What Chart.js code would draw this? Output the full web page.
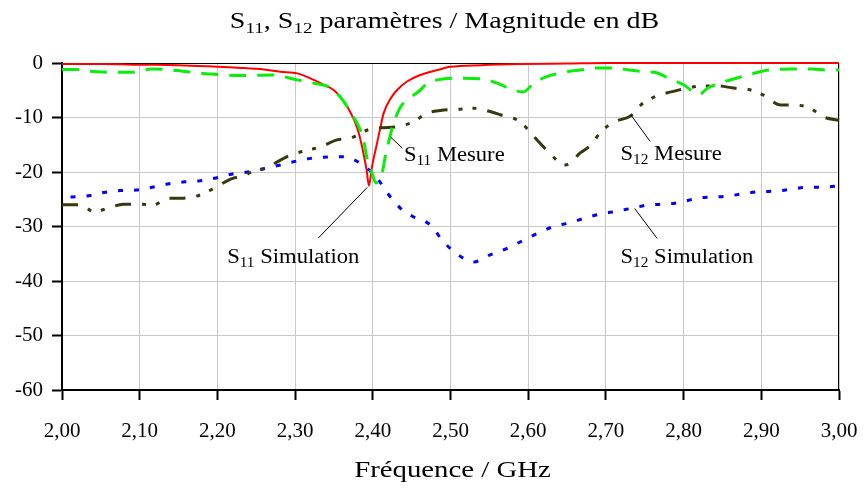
<!DOCTYPE html>
<html>
<head>
<meta charset="utf-8">
<title>S11, S12 paramètres</title>
<script src="https://cdn.jsdelivr.net/npm/chart.js@4.4.1/dist/chart.umd.min.js"></script>
<style>
  html, body { margin: 0; padding: 0; background: #fff; }
  #wrap { width: 864px; height: 490px; }
</style>
</head>
<body>
<div id="wrap"><canvas id="sparams"></canvas></div>
<script>
// S11 simulation (red)
const s11SimFreq = [2.000, 2.050, 2.100, 2.150, 2.200, 2.230, 2.260, 2.281, 2.303, 2.324, 2.337, 2.350, 2.358, 2.367, 2.376, 2.382, 2.388, 2.392, 2.395, 2.399, 2.405, 2.410, 2.414, 2.423, 2.431, 2.444, 2.461, 2.483, 2.500, 2.540, 2.590, 2.650, 2.700, 2.800, 2.900, 3.000];
const s11SimDb = [-0.2, -0.2, -0.3, -0.4, -0.7, -0.9, -1.2, -1.6, -1.9, -3.1, -4.0, -5.0, -6.2, -8.0, -10.5, -12.9, -16.6, -19.6, -22.5, -19.0, -15.0, -11.7, -9.2, -6.5, -5.0, -3.4, -2.2, -1.3, -0.7, -0.4, -0.2, -0.1, 0, 0, 0, 0];

// S11 mesure (green)
const s11MesFreq = [2.000, 2.020, 2.035, 2.070, 2.095, 2.115, 2.135, 2.155, 2.190, 2.230, 2.270, 2.303, 2.324, 2.346, 2.358, 2.367, 2.375, 2.384, 2.388, 2.393, 2.399, 2.404, 2.407, 2.412, 2.416, 2.420, 2.427, 2.436, 2.444, 2.461, 2.470, 2.483, 2.504, 2.539, 2.560, 2.581, 2.594, 2.607, 2.624, 2.650, 2.667, 2.690, 2.710, 2.730, 2.750, 2.765, 2.778, 2.800, 2.820, 2.831, 2.851, 2.870, 2.893, 2.910, 2.940, 2.965, 2.985, 3.000];
const s11MesDb = [-1.2, -1.2, -1.5, -1.7, -1.7, -1.1, -1.2, -1.5, -2.0, -2.3, -2.2, -3.1, -3.7, -4.6, -6.2, -8.0, -9.8, -12.3, -14.1, -17.8, -20.2, -22.0, -21.8, -20.2, -17.2, -14.7, -11.0, -8.0, -6.8, -5.0, -3.7, -3.1, -2.8, -2.9, -3.7, -5.0, -5.3, -3.7, -2.5, -1.6, -1.3, -0.9, -0.9, -1.3, -1.6, -1.8, -2.6, -4.0, -5.8, -4.6, -3.5, -2.7, -1.8, -1.3, -1.1, -1.1, -1.3, -1.3];

// S12 mesure (dark olive)
const s12MesFreq = [2.000, 2.024, 2.041, 2.060, 2.079, 2.098, 2.118, 2.137, 2.156, 2.178, 2.198, 2.217, 2.235, 2.250, 2.264, 2.275, 2.294, 2.316, 2.333, 2.354, 2.371, 2.393, 2.410, 2.431, 2.452, 2.470, 2.487, 2.509, 2.530, 2.551, 2.564, 2.590, 2.603, 2.624, 2.648, 2.667, 2.681, 2.693, 2.711, 2.732, 2.745, 2.768, 2.784, 2.805, 2.826, 2.845, 2.864, 2.885, 2.903, 2.925, 2.941, 2.963, 2.980, 3.000];
const s12MesDb = [-26.0, -26.0, -27.3, -26.6, -25.9, -25.9, -26.0, -24.8, -24.8, -24.2, -22.8, -21.3, -20.6, -19.6, -19.3, -18.3, -16.9, -16.0, -15.4, -14.1, -13.8, -12.3, -11.9, -11.7, -10.8, -9.2, -8.7, -8.5, -8.3, -8.9, -9.5, -10.8, -12.8, -16.0, -18.7, -16.5, -15.0, -12.7, -10.8, -9.7, -7.7, -5.9, -5.3, -4.6, -4.2, -4.2, -4.6, -4.9, -5.9, -7.7, -7.7, -8.3, -9.9, -10.5];

// S12 simulation (blue)
const s12SimFreq = [2.011, 2.037, 2.056, 2.075, 2.096, 2.116, 2.136, 2.158, 2.178, 2.198, 2.218, 2.239, 2.281, 2.320, 2.362, 2.384, 2.406, 2.419, 2.436, 2.452, 2.474, 2.491, 2.513, 2.530, 2.551, 2.573, 2.590, 2.616, 2.633, 2.654, 2.674, 2.693, 2.714, 2.735, 2.757, 2.777, 2.797, 2.818, 2.837, 2.858, 2.880, 2.899, 2.921, 2.941, 2.961, 2.981, 3.000];
const s12SimDb = [-24.6, -24.3, -23.7, -23.4, -23.3, -22.8, -22.2, -21.8, -21.6, -21.1, -20.4, -20.0, -18.7, -17.5, -17.2, -18.4, -21.2, -23.9, -26.7, -28.2, -29.7, -32.8, -35.5, -36.5, -35.2, -34.0, -32.8, -31.0, -30.0, -29.3, -28.4, -27.7, -27.2, -26.6, -26.0, -25.9, -25.5, -24.8, -24.6, -24.4, -23.9, -23.6, -23.5, -23.1, -22.8, -22.8, -22.5];

const SERIF = '"Liberation Serif", "Times New Roman", serif';

function pts(freq, db) {
  return freq.map((f, i) => ({ x: f, y: db[i] }));
}

// text with subscripts: parts = [text, isSub]
function drawRich(ctx, parts, x, y, size, stretch, align) {
  const widths = parts.map(([t, sub]) => {
    ctx.font = (sub ? size * 0.68 : size) + 'px ' + SERIF;
    return ctx.measureText(t).width;
  });
  const total = widths.reduce((a, b) => a + b, 0) * stretch;
  const startX = align === 'center' ? x - total / 2 : x;
  ctx.save();
  ctx.fillStyle = '#000';
  ctx.textBaseline = 'alphabetic';
  ctx.textAlign = 'left';
  ctx.translate(startX, y);
  ctx.scale(stretch, 1);
  let px = 0;
  parts.forEach(([t, sub], i) => {
    ctx.font = (sub ? size * 0.68 : size) + 'px ' + SERIF;
    ctx.fillText(t, px, sub ? size * 0.22 : 0);
    px += widths[i];
  });
  ctx.restore();
}

// callouts, anchored in data units (GHz, dB)
const notes = [
  { parts: [['S', 0], ['11', 1], [' Mesure', 0]], from: [2.423, -13.6], to: [2.438, -15.6], at: [2.440, -17.9] },
  { parts: [['S', 0], ['11', 1], [' Simulation', 0]], from: [2.330, -32.1], to: [2.393, -22.8], at: [2.2126, -36.7] },
  { parts: [['S', 0], ['12', 1], [' Mesure', 0]], from: [2.732, -9.5], to: [2.757, -14.4], at: [2.7188, -17.8] },
  { parts: [['S', 0], ['12', 1], [' Simulation', 0]], from: [2.737, -26.7], to: [2.766, -32.2], at: [2.7188, -36.7] }
];

const decorations = {
  id: 'decorations',
  beforeDatasetsDraw(chart) {
    const { ctx, chartArea: a } = chart;
    ctx.save();
    ctx.strokeStyle = '#000';
    ctx.lineWidth = 1;
    ctx.strokeRect(a.left + 0.5, a.top + 0.5, a.right - a.left - 1, a.bottom - a.top);
    ctx.restore();
  },
  afterDraw(chart) {
    const { ctx, chartArea: a, scales: { x, y } } = chart;
    ctx.save();
    ctx.strokeStyle = '#000';
    ctx.lineWidth = 1;
    notes.forEach(n => {
      ctx.beginPath();
      ctx.moveTo(x.getPixelForValue(n.from[0]), y.getPixelForValue(n.from[1]));
      ctx.lineTo(x.getPixelForValue(n.to[0]), y.getPixelForValue(n.to[1]));
      ctx.stroke();
      drawRich(ctx, n.parts, x.getPixelForValue(n.at[0]), y.getPixelForValue(n.at[1]), 20, 1.13, 'left');
    });
    ctx.restore();
    const cx = (a.left + a.right) / 2;
    drawRich(ctx, [['S', 0], ['11', 1], [', ', 0], ['S', 0], ['12', 1], [' paramètres / Magnitude en dB', 0]], cx - 6, 28, 23, 1.22, 'center');
    drawRich(ctx, [['Fréquence / GHz', 0]], cx + 2, 477, 24, 1.2, 'center');
  }
};

const ctx = document.getElementById('sparams').getContext('2d');
new Chart(ctx, {
  type: 'line',
  data: {
    datasets: [
      {
        label: 'S11 Mesure',
        data: pts(s11MesFreq, s11MesDb),
        borderColor: '#0aee0a',
        borderWidth: 3,
        borderDash: [17, 11]
      },
      {
        label: 'S12 Mesure',
        data: pts(s12MesFreq, s12MesDb),
        borderColor: '#38380f',
        borderWidth: 3,
        borderDash: [16, 11, 4, 10, 4, 11]
      },
      {
        label: 'S12 Simulation',
        data: pts(s12SimFreq, s12SimDb),
        borderColor: '#0000ff',
        borderWidth: 3,
        borderDash: [5, 11]
      },
      {
        label: 'S11 Simulation',
        data: pts(s11SimFreq, s11SimDb),
        borderColor: '#ff0000',
        borderWidth: 2
      }
    ]
  },
  options: {
    responsive: true,
    maintainAspectRatio: false,
    animation: false,
    layout: { padding: { top: 63, right: 25, left: 0, bottom: 0 } },
    elements: {
      point: { radius: 0 },
      line: { cubicInterpolationMode: 'monotone', fill: false }
    },
    datasets: { line: { clip: 4 } },
    plugins: {
      legend: { display: false },
      title: { display: false },
      tooltip: { enabled: false }
    },
    scales: {
      x: {
        type: 'linear',
        min: 2,
        max: 3,
        afterFit: s => { s.height = 100; s.paddingLeft = 0; s.paddingRight = 0; },
        grid: { color: '#c8c8c8', lineWidth: 1, tickColor: '#000', tickWidth: 2, tickLength: 10 },
        border: { color: '#000', width: 2 },
        ticks: {
          stepSize: 0.1,
          autoSkip: false,
          maxRotation: 0,
          padding: 19,
          color: '#000',
          font: { family: SERIF, size: 21 },
          callback: v => v.toFixed(2).replace('.', ',')
        }
      },
      y: {
        min: -60,
        max: 0,
        afterFit: s => { s.width = 62; s.paddingTop = 0; s.paddingBottom = 0; },
        grid: { color: '#c8c8c8', lineWidth: 1, tickColor: '#000', tickWidth: 2, tickLength: 10 },
        border: { color: '#000', width: 2 },
        ticks: {
          stepSize: 10,
          padding: 9,
          color: '#000',
          font: { family: SERIF, size: 21 },
          callback: v => String(v)
        }
      }
    }
  },
  plugins: [decorations]
});
</script>
</body>
</html>
